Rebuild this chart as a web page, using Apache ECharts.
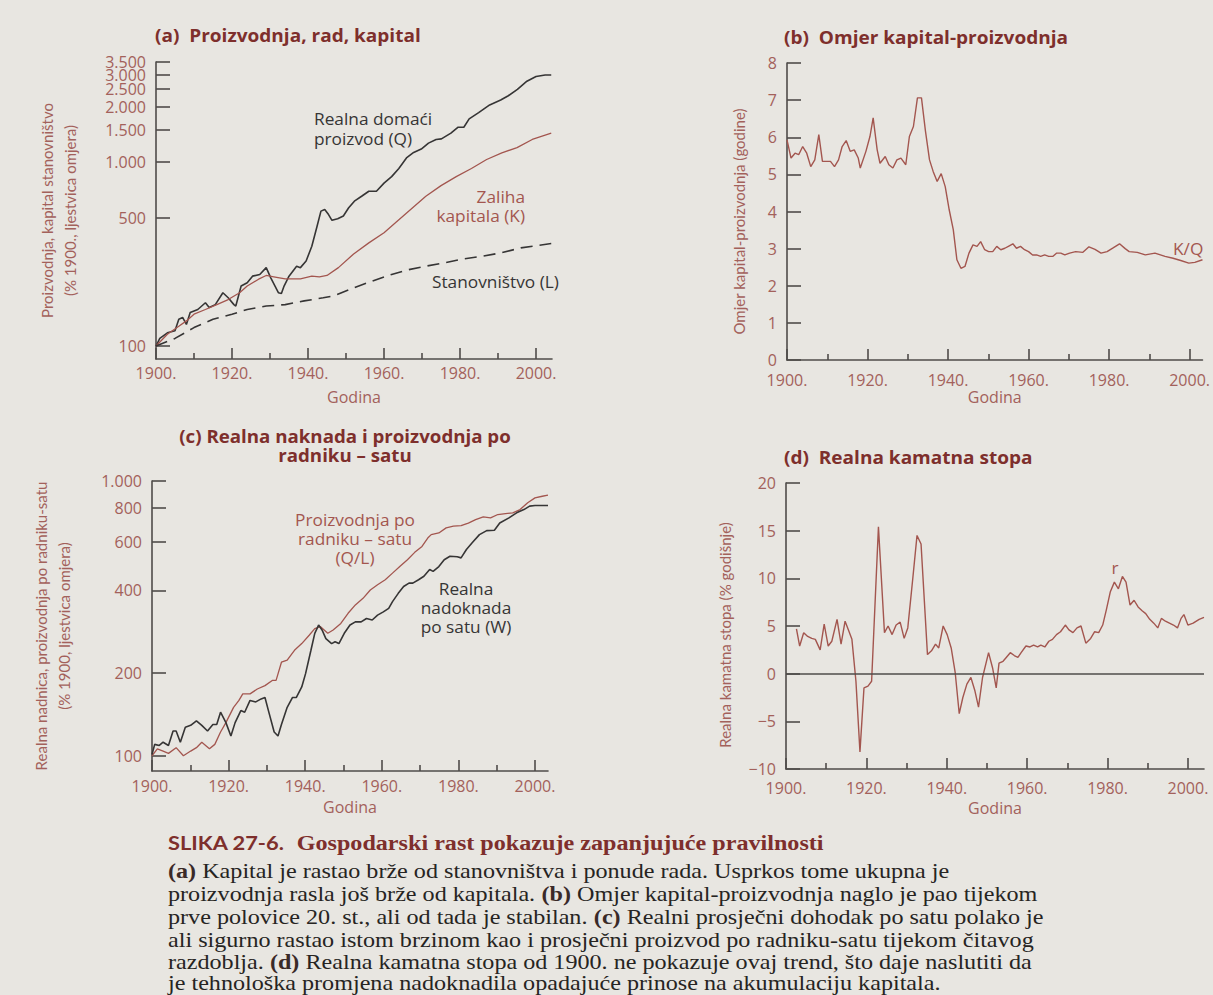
<!DOCTYPE html>
<html>
<head>
<meta charset="utf-8">
<script src="https://cdn.jsdelivr.net/npm/echarts@6/dist/echarts.min.js"></script>
<style>
html,body{margin:0;padding:0;background:#e8e6e1;}
#chart{width:1213px;height:995px;}
</style>
</head>
<body>
<div id="chart"></div>
<script>
// ---------- tick labels ----------
const yearTicks = [1900, 1920, 1940, 1960, 1980, 2000];
const yearMinorTicks = [1910, 1930, 1950, 1970, 1990];
const ticksA = [100, 500, 1000, 1500, 2000, 2500, 3000, 3500];
const ticksC = [100, 200, 400, 600, 800, 1000];

// ---------- (a) output, labour, capital  [year, % of 1900] ----------
const outputQ = [[1900,100],[1901,110],[1903,118],[1905,121],[1906,140],[1907,143],[1908,131],[1909,152],[1911,158],[1913,172],
 [1914,162],[1915.6,168],[1917.6,195],[1919,183],[1920.5,168],[1921,165],[1922.4,212],[1924,221],[1925.4,240],[1927.3,245],
 [1929,267],[1930.2,235],[1932.2,195],[1933,193],[1933.7,212],[1935,240],[1937,272],[1938,267],[1939.5,290],[1941,349],
 [1942.4,450],[1943.4,542],[1944.4,553],[1945.4,519],[1946.3,483],[1947.8,493],[1949.3,510],[1950.7,565],[1952.2,614],[1954.1,653],
 [1956,695],[1958,695],[1960,770],[1962,835],[1963.9,925],[1965.9,1055],[1967.8,1130],[1969.8,1180],[1971.7,1270],[1973.7,1330],
 [1975.1,1340],[1977.6,1440],[1979.5,1550],[1981,1550],[1982.4,1720],[1984.9,1860],[1987.8,2050],[1990.7,2180],[1992.7,2300],[1995.1,2490],
 [1997.6,2760],[2000,2930],[2002.4,2980],[2004,2980]];
const capitalK = [[1900,100],[1903,116],[1906,128],[1908,137],[1910,149],[1913,158],[1916,168],[1919,179],[1922,195],[1924,212],
 [1927,231],[1929,242],[1931,238],[1934,232],[1938,232],[1941,240],[1943,238],[1945,242],[1948,267],[1952,317],[1956,364],
 [1960,413],[1963,468],[1967,553],[1971,653],[1975,746],[1979,835],[1983,925],[1987,1035],[1991,1125],[1995,1200],[1999,1330],[2004,1440]];
const populationL = [[1900,100],[1905,110],[1910,126],[1915,140],[1920,149],[1924,158],[1929,165],[1934,168],[1939,176],[1944,183],
 [1947,188],[1952,207],[1957,226],[1962,245],[1966,259],[1971,272],[1976,284],[1981,298],[1986,308],[1991,322],[1996,342],[2004,361]];

// ---------- (b) capital-output ratio (years) ----------
const ratioKQ = [[1900,5.93],[1901,5.44],[1902,5.57],[1902.9,5.53],[1903.9,5.75],[1904.9,5.57],[1905.9,5.21],[1906.9,5.39],[1907.9,6.07],[1908.8,5.35],
 [1909.8,5.35],[1910.8,5.35],[1911.8,5.21],[1912.8,5.39],[1913.7,5.75],[1914.7,5.91],[1915.7,5.62],[1916.7,5.66],[1917.7,5.44],[1918.2,5.17],
 [1919.6,5.62],[1920.6,6.02],[1921.4,6.52],[1922.4,5.66],[1923.1,5.30],[1924.4,5.48],[1925.3,5.26],[1926.3,5.17],[1927.3,5.39],[1928.3,5.44],
 [1929.5,5.26],[1930.4,6.02],[1931.4,6.29],[1932.4,7.06],[1933.4,7.06],[1934.4,6.16],[1935.4,5.39],[1936.3,5.08],[1937.3,4.81],[1938.3,5.02],
 [1939.3,4.67],[1940.3,4.04],[1941.3,3.51],[1942.2,2.70],[1943.2,2.47],[1944.2,2.52],[1945.2,2.88],[1946.2,3.10],[1947.2,3.06],[1948.1,3.19],
 [1949.1,2.97],[1950.1,2.92],[1951.1,2.92],[1952.1,3.06],[1953.1,2.97],[1954.1,3.01],[1955.1,3.07],[1956.1,3.13],[1957.0,3.01],[1958.0,3.06],
 [1959.0,2.97],[1960.0,2.92],[1961.0,2.83],[1962.0,2.83],[1963.0,2.79],[1964.0,2.83],[1965.0,2.79],[1966.0,2.79],[1967.0,2.88],[1968.0,2.88],
 [1969.0,2.83],[1970.2,2.88],[1971.7,2.92],[1973.5,2.90],[1975.0,3.05],[1976.5,2.98],[1978.0,2.88],[1979.5,2.92],[1981.0,3.02],[1982.6,3.13],
 [1984.0,3.00],[1985.0,2.92],[1987.0,2.90],[1989.0,2.83],[1991.4,2.88],[1993.9,2.79],[1995.9,2.74],[1997.8,2.68],[1999.8,2.61],[2001.3,2.63],[2003.2,2.70]];

// ---------- (c) real wage and output per worker-hour ----------
const outputPerHour = [[1900,100],[1901.4,106],[1902.9,104],[1904.3,102],[1906.3,107],[1908.2,100],[1910.1,104],[1911.6,107],[1913,112],[1914,109],
 [1915,106],[1916.4,110],[1917.9,122],[1919.3,132],[1921.3,150],[1922.7,159],[1923.7,168],[1925.6,168],[1927.5,175],[1929.5,180],
 [1931.4,188],[1932.4,188],[1933.8,219],[1935.3,223],[1937.2,242],[1939.1,256],[1941.1,275],[1942.5,290],[1944,295],[1945.9,279],
 [1947.3,287],[1949.3,303],[1951.2,330],[1953.1,354],[1955.1,374],[1957,401],[1958.9,419],[1960.9,437],[1962.8,462],[1964.7,488],
 [1966.7,517],[1968.6,550],[1970.5,578],[1972,620],[1972.9,638],[1974.9,647],[1976.8,675],[1978.7,685],[1980.7,688],[1982.6,703],
 [1984.5,723],[1986.5,740],[1988.4,734],[1990.3,755],[1992.3,761],[1994.2,766],[1996.1,787],[1998.1,833],[2000,868],[2001.9,880],[2003.4,888]];
const realWageW = [[1900,101],[1900.7,110],[1901.9,109],[1902.9,112],[1904.3,109],[1905.5,123],[1906.3,123],[1907.4,112],[1908.7,127],[1910.1,129],
 [1911.6,134],[1913,129],[1914.5,123],[1915.9,130],[1916.9,130],[1917.9,144],[1919.3,132],[1920.6,118],[1921.7,132],[1923.2,146],
 [1924.2,144],[1925.6,159],[1927.1,157],[1928.5,161],[1929.5,163],[1930.4,146],[1931.9,122],[1932.9,118],[1933.8,130],[1935.3,150],
 [1936.7,163],[1937.7,163],[1939.1,178],[1940.1,199],[1941.5,242],[1942.5,279],[1943.5,299],[1944.4,287],[1945.4,267],[1946.9,256],
 [1947.8,260],[1948.8,256],[1950.2,279],[1951.7,299],[1953.1,307],[1954.6,307],[1956,316],[1957.5,312],[1958.9,325],[1960.4,334],
 [1961.8,344],[1962.8,364],[1964.3,390],[1965.7,413],[1967.1,425],[1968.1,425],[1969.6,437],[1971,450],[1972.5,476],[1973.4,469],
 [1974.9,488],[1976.3,517],[1977.8,532],[1979.7,530],[1980.7,525],[1982.1,563],[1983.6,596],[1985.5,638],[1987.4,660],[1989.4,662],
 [1990.8,703],[1993.2,734],[1995.2,766],[1997.1,787],[1998.6,810],[2000,814],[2003.4,814]];

// ---------- (d) real interest rate (% per year) ----------
const realRate = [[1902.6,4.7],[1903.4,2.9],[1904.4,4.3],[1905.4,3.9],[1906.4,3.7],[1907.3,3.6],[1908.5,2.5],[1909.5,5.2],[1910.5,2.9],[1911.4,3.4],
 [1912.7,5.7],[1913.7,3.1],[1914.7,5.5],[1915.7,4.4],[1916.4,3.6],[1917.4,-0.8],[1918.4,-8.2],[1919.4,-1.5],[1920.4,-1.3],[1921.3,-0.8],
 [1923,15.4],[1924.5,4.3],[1925.4,5.0],[1926.4,4.1],[1927.4,5.1],[1928.4,5.4],[1929.4,3.7],[1930.3,4.8],[1931.5,9.8],[1932.6,14.5],
 [1933.6,13.6],[1935.2,2.0],[1936.2,2.4],[1937.2,3.1],[1938,2.7],[1939.1,5.0],[1940.1,4.1],[1941.1,2.7],[1942.1,0.1],[1943.1,-4.2],
 [1944,-2.5],[1945,-1.1],[1946,-0.4],[1947,-1.8],[1947.9,-3.5],[1948.9,-0.4],[1950.4,2.2],[1951.4,0.6],[1952.3,-1.5],[1953,1.1],
 [1954,1.3],[1954.8,1.7],[1955.8,2.2],[1956.8,1.9],[1957.7,1.7],[1958.5,2.2],[1959.7,2.9],[1960.7,2.8],[1961.6,3.0],[1962.6,2.8],
 [1963.4,3.0],[1964.4,2.8],[1965.4,3.4],[1966.3,3.6],[1967.3,4.1],[1968.3,4.4],[1969.5,5.1],[1970.4,4.6],[1971.4,4.3],[1972.4,4.8],
 [1973.4,5.0],[1974.6,3.2],[1975.8,3.7],[1976.8,4.4],[1977.8,4.3],[1978.8,5.1],[1979.7,6.7],[1980.7,8.6],[1981.7,9.6],[1982.7,8.9],
 [1983.7,10.2],[1984.6,9.6],[1985.6,7.2],[1986.6,7.7],[1987.6,7.0],[1988.6,6.6],[1989.5,6.3],[1990.5,5.7],[1991.5,5.3],[1992.5,4.8],
 [1993.4,5.8],[1994.4,5.5],[1995.4,5.3],[1996.4,5.1],[1997.4,4.8],[1998.3,5.8],[1999,6.2],[2000,5.1],[2001.3,5.3],[2002.8,5.7],[2004,5.9]];

// ---------- texts ----------
const captionTitle = ['SLIKA 27-6.', 'Gospodarski rast pokazuje zapanjujuće pravilnosti'];
const captionLines = [
  '{b|(a)}{n| Kapital je rastao brže od stanovništva i ponude rada. Usprkos tome ukupna je}',
  '{n|proizvodnja rasla još brže od kapitala. }{b|(b)}{n| Omjer kapital-proizvodnja naglo je pao tijekom}',
  '{n|prve polovice 20. st., ali od tada je stabilan. }{b|(c)}{n| Realni prosječni dohodak po satu polako je}',
  '{n|ali sigurno rastao istom brzinom kao i prosječni proizvod po radniku-satu tijekom čitavog}',
  '{n|razdoblja. }{b|(d)}{n| Realna kamatna stopa od 1900. ne pokazuje ovaj trend, što daje naslutiti da}',
  '{n|je tehnološka promjena nadoknadila opadajuće prinose na akumulaciju kapitala.}'
];

// ---------- styling ----------
const BG = '#e8e6e1';
const axisColor = '#4f4c4a';
const labelColor = '#a3615b';
const titleColor = '#7e2f2c';
const darkLine = '#363535';
const redLine = '#a3564f';
const FONT = 'Open Sans';
const VFONT = 'Lato';

const fmtYear = v => Math.round(v) + '.';
const fmtThousand = v => {
  v = Math.round(v);
  return v >= 1000 ? Math.floor(v / 1000) + '.' + String(v % 1000).padStart(3, '0') : String(v);
};

function xPair(gi, max, labelMargin, nameGap) {
  const tickStyle = {color: axisColor, width: 1.6};
  return [
    {
      type: 'value', gridIndex: gi, min: 1900, max: max, position: 'bottom',
      axisLine: {show: true, onZero: false, lineStyle: {color: axisColor, width: 1.6}},
      axisTick: {show: true, inside: true, length: 11, customValues: yearTicks, lineStyle: tickStyle},
      axisLabel: {customValues: yearTicks, formatter: fmtYear, color: labelColor, fontSize: 16, fontFamily: FONT,
        margin: labelMargin, lineHeight: 14},
      splitLine: {show: false},
      name: 'Godina', nameLocation: 'middle', nameGap: nameGap,
      nameTextStyle: {color: labelColor, fontSize: 16, fontFamily: FONT, lineHeight: 16}
    },
    {
      type: 'value', gridIndex: gi, min: 1900, max: max, position: 'bottom',
      axisLine: {show: false, onZero: false},
      axisTick: {show: true, inside: true, length: 6, customValues: yearMinorTicks, lineStyle: tickStyle},
      axisLabel: {show: false},
      splitLine: {show: false}
    }
  ];
}

function yBase(gi, extra) {
  const base = {
    gridIndex: gi, position: 'left',
    axisLine: {show: true, onZero: false, lineStyle: {color: axisColor, width: 1.6}},
    splitLine: {show: false},
    nameLocation: 'middle', nameRotate: 90
  };
  return Object.assign(base, extra);
}
const yTick = cv => Object.assign({show: true, inside: true, length: 14, lineStyle: {color: axisColor, width: 1.6}}, cv ? {customValues: cv} : {});
const yLabel = (cv, fmt, lh, pad) => Object.assign({color: labelColor, fontSize: 16, fontFamily: FONT, margin: 10, lineHeight: lh || 14,
  showMinLabel: true, showMaxLabel: true, padding: pad || 0},
  cv ? {customValues: cv} : {}, fmt ? {formatter: fmt} : {});
const yName = (pad) => ({color: labelColor, fontSize: 15, fontFamily: VFONT, lineHeight: 23, padding: pad || 0});

// Panel (a): the upper log-scale labels sit very close together; each one gets its own
// (line-less) copy of the same log axis so ECharts does not drop any of them.
const A_MIN = 85, A_MAX = 3510;
const ticksALow = ticksA.slice(0, 4);
const ticksAHigh = ticksA.slice(4);
const extraAxesA = ticksAHigh.map(v => yBase(0, {type: 'log', logBase: 10, min: A_MIN, max: A_MAX,
  axisLine: {show: false, onZero: false},
  axisTick: yTick([v]), axisLabel: yLabel([v], fmtThousand, 10)}));

function txt(text, x, y, color, opts, sx) {
  return {
    type: 'text', x: x, y: y, silent: true, scaleX: sx || 1.08, originX: 0, originY: 0,
    style: Object.assign({
      text: text, fill: color, fontSize: 16, fontFamily: FONT, lineHeight: 19,
      textAlign: 'left', textVerticalAlign: 'middle'
    }, opts || {})
  };
}
const TB = {fontWeight: 'bold', fontSize: 17};

const graphics = [
  // panel titles
  txt('(a)  Proizvodnja, rad, kapital', 155, 35, titleColor, TB, 1.12),
  txt('(b)  Omjer kapital-proizvodnja', 784, 37, titleColor, TB, 1.12),
  txt('(c) Realna naknada i proizvodnja po\nradniku – satu', 345, 446, titleColor, Object.assign({textAlign: 'center', lineHeight: 19}, TB), 1.1),
  txt('(d)  Realna kamatna stopa', 784, 457, titleColor, TB, 1.12),
  // series labels (a)
  txt('Realna domaći\nproizvod (Q)', 314, 129, darkLine, {lineHeight: 20}),
  txt('Zaliha\nkapitala (K)', 525, 206, redLine, {textAlign: 'right', lineHeight: 19}),
  txt('Stanovništvo (L)', 432, 282, darkLine),
  // (b)
  txt('K/Q', 1173, 249, redLine),
  // (c)
  txt('Proizvodnja po\nradniku – satu\n(Q/L)', 355, 539, redLine, {textAlign: 'center', lineHeight: 19}),
  txt('Realna\nnadoknada\npo satu (W)', 466, 608, darkLine, {textAlign: 'center', lineHeight: 19}),
  // (d)
  txt('r', 1115, 568, redLine, {textAlign: 'center'}),
  // caption title
  {
    type: 'text', x: 168, y: 843, silent: true, scaleX: 1.15, originX: 0, originY: 0,
    style: {
      text: '{s|' + captionTitle[0] + '}{g|  ' + captionTitle[1] + '}',
      textVerticalAlign: 'middle', textAlign: 'left',
      rich: {
        s: {fontFamily: 'Lato', fontWeight: 'bold', fontSize: 19, fill: titleColor},
        g: {fontFamily: 'Liberation Serif', fontWeight: 'bold', fontSize: 21, fill: titleColor}
      }
    }
  }
];
const lineYs = [871, 894, 917, 940, 962, 983];
captionLines.forEach((line, i) => {
  graphics.push({
    type: 'text', x: 168, y: lineYs[i], silent: true, scaleX: 1.15, originX: 0, originY: 0,
    style: {
      text: line, textVerticalAlign: 'middle', textAlign: 'left',
      rich: {
        n: {fontFamily: 'Liberation Serif', fontSize: 21, lineHeight: 20, fill: '#262422'},
        b: {fontFamily: 'Liberation Serif', fontWeight: 'bold', fontSize: 21, lineHeight: 20, fill: '#3a2a28'}
      }
    }
  });
});

const lineSeries = (name, xi, yi, data, color, width, extra) => Object.assign({
  name: name, type: 'line', xAxisIndex: xi, yAxisIndex: yi, data: data,
  showSymbol: false, symbol: 'none', smooth: false, silent: true,
  lineStyle: {color: color, width: width}
}, extra || {});

const option = {
  backgroundColor: BG,
  animation: false,
  textStyle: {fontFamily: FONT},
  grid: [
    {left: 156, top: 62, width: 396, height: 297},
    {left: 787, top: 63, width: 418, height: 297},
    {left: 152, top: 481, width: 396, height: 290},
    {left: 786, top: 483, width: 418, height: 286}
  ],
  xAxis: [].concat(
    xPair(0, 2004.2, 7, 30),
    xPair(1, 2003.2, 13, 29),
    xPair(2, 2003.4, 8, 28),
    xPair(3, 2004, 12, 31)
  ),
  yAxis: [
    yBase(0, {type: 'log', logBase: 10, min: A_MIN, max: A_MAX,
      axisTick: yTick(ticksALow), axisLabel: yLabel(ticksALow, fmtThousand, 10),
      name: 'Proizvodnja, kapital stanovništvo\n(% 1900., ljestvica omjera)', nameGap: 75, nameTextStyle: yName()}),
    yBase(1, {type: 'value', min: 0, max: 8, interval: 1,
      axisTick: yTick(), axisLabel: yLabel(null, null, 14, [0, 0, 4, 0]),
      name: 'Omjer kapital-proizvodnja (godine)', nameGap: 37, nameTextStyle: yName([0, 20, 0, 0])}),
    yBase(2, {type: 'log', logBase: 10, min: 88, max: 1000,
      axisTick: yTick(ticksC), axisLabel: yLabel(ticksC, fmtThousand),
      name: 'Realna nadnica, proizvodnja po radniku-satu\n(% 1900, ljestvica omjera)', nameGap: 77, nameTextStyle: yName()}),
    yBase(3, {type: 'value', min: -10, max: 20, interval: 5,
      axisTick: yTick(), axisLabel: yLabel(null, v => v < 0 ? '\u2212' + Math.abs(v) : String(v), 14, [0, 0, 4, 0]),
      name: 'Realna kamatna stopa (% godišnje)', nameGap: 50, nameTextStyle: yName([0, 18, 0, 0])})
  ].concat(extraAxesA),
  series: [
    lineSeries('Realna domaći proizvod (Q)', 0, 0, outputQ, darkLine, 1.6),
    lineSeries('Zaliha kapitala (K)', 0, 0, capitalK, redLine, 1.3),
    lineSeries('Stanovništvo (L)', 0, 0, populationL, darkLine, 1.6, {lineStyle: {color: darkLine, width: 1.6, type: [12, 7]}}),
    lineSeries('K/Q', 2, 1, ratioKQ, redLine, 1.4),
    lineSeries('Proizvodnja po radniku – satu (Q/L)', 4, 2, outputPerHour, redLine, 1.3),
    lineSeries('Realna nadoknada po satu (W)', 4, 2, realWageW, darkLine, 1.6),
    lineSeries('r', 6, 3, realRate, redLine, 1.4, {
      markLine: {
        silent: true, symbol: ['none', 'none'], label: {show: false}, animation: false,
        lineStyle: {color: axisColor, width: 1.6, type: 'solid'},
        emphasis: {disabled: true},
        data: [{yAxis: 0}]
      }
    })
  ],
  graphic: graphics
};

const chart = echarts.init(document.getElementById('chart'), null, {renderer: 'svg', width: 1213, height: 995});
chart.setOption(option);
</script>
</body>
</html>
